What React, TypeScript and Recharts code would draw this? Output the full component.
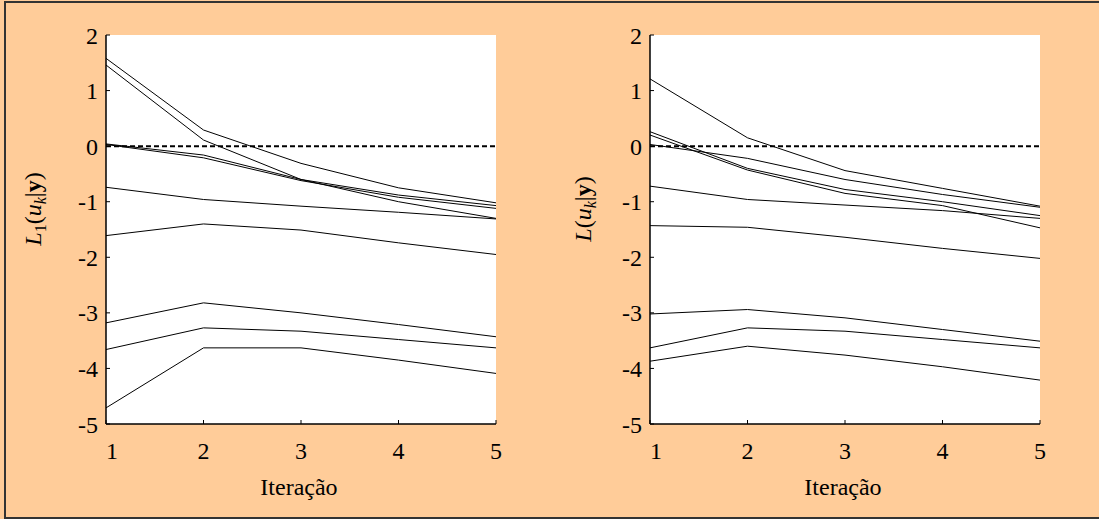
import React from 'react';
import { LineChart, Line, XAxis, YAxis, ReferenceLine, CartesianGrid } from 'recharts';

const iterations = [1, 2, 3, 4, 5];
const yTicks = [-5, -4, -3, -2, -1, 0, 1, 2];

// left panel: L1(uk|y)
const leftA = [1.58, 0.29, -0.31, -0.75, -1.02];
const leftB = [1.46, 0.11, -0.6, -1.0, -1.3];
const leftC = [0.04, -0.16, -0.6, -0.88, -1.07];
const leftD = [0.03, -0.21, -0.62, -0.92, -1.12];
const leftE = [-0.74, -0.96, -1.08, -1.19, -1.31];
const leftF = [-1.61, -1.4, -1.51, -1.74, -1.95];
const leftG = [-3.18, -2.82, -3.0, -3.21, -3.43];
const leftH = [-3.66, -3.27, -3.33, -3.48, -3.63];
const leftI = [-4.71, -3.63, -3.63, -3.85, -4.09];

// right panel: L(uk|y)
const rightA = [1.21, 0.15, -0.44, -0.76, -1.08];
const rightB = [0.26, -0.4, -0.78, -1.0, -1.25];
const rightC = [0.2, -0.43, -0.85, -1.07, -1.47];
const rightD = [0.03, -0.22, -0.6, -0.87, -1.1];
const rightE = [-0.72, -0.96, -1.06, -1.16, -1.3];
const rightF = [-1.43, -1.46, -1.64, -1.84, -2.02];
const rightG = [-3.02, -2.94, -3.09, -3.3, -3.51];
const rightH = [-3.63, -3.27, -3.33, -3.48, -3.63];
const rightI = [-3.87, -3.6, -3.76, -3.97, -4.21];

const leftCurves = [leftA, leftB, leftC, leftD, leftE, leftF, leftG, leftH, leftI];
const rightCurves = [rightA, rightB, rightC, rightD, rightE, rightF, rightG, rightH, rightI];

const FONT = 'Liberation Serif, DejaVu Serif, serif';

const toRows = (curves: number[][]) =>
  iterations.map((it, i) => {
    const row: Record<string, number> = { it };
    curves.forEach((c, k) => {
      row['s' + k] = c[i];
    });
    return row;
  });

const tickStyle = { fill: '#000', fontSize: 24, style: { fontFamily: FONT } };

// x tick labels; the first one sits a bit inside the frame like in the original
const XTick = (props: any) => {
  const { x, y, payload } = props;
  const shift = payload.value === 1 ? 6 : 0;
  return (
    <text
      x={x + shift}
      y={y}
      dy="0.71em"
      textAnchor="middle"
      fill="#000"
      fontSize={24}
      style={{ fontFamily: FONT }}
    >
      {payload.value}
    </text>
  );
};

const Panel: React.FC<{ curves: number[][]; left: number }> = ({ curves, left }) => {
  const data = toRows(curves);
  return (
    <div style={{ position: 'absolute', left, top: 0, fontFamily: FONT }}>
      <LineChart
        width={545}
        height={519}
        data={data}
        margin={{ top: 35, right: 49, bottom: 35, left: 46 }}
        style={{ fontFamily: FONT }}
      >
        <CartesianGrid horizontal={false} vertical={false} fill="#fff" />
        <XAxis
          dataKey="it"
          type="number"
          domain={[1, 5]}
          ticks={iterations}
          height={60}
          tickSize={-4}
          tickMargin={22}
          axisLine={{ stroke: '#000', strokeWidth: 1.5 }}
          tickLine={{ stroke: '#000' }}
          tick={<XTick />}
        />
        <XAxis
          xAxisId="top"
          orientation="top"
          dataKey="it"
          type="number"
          domain={[1, 5]}
          ticks={iterations}
          height={0}
          tickSize={-4}
          axisLine={{ stroke: '#000', strokeWidth: 1.5 }}
          tickLine={{ stroke: '#000' }}
          tick={false}
        />
        <YAxis
          type="number"
          domain={[-5, 2]}
          ticks={yTicks}
          width={60}
          tickSize={-4}
          tickMargin={12}
          axisLine={{ stroke: '#000', strokeWidth: 1.5 }}
          tickLine={{ stroke: '#000' }}
          tick={tickStyle}
        />
        <YAxis
          yAxisId="right"
          orientation="right"
          type="number"
          domain={[-5, 2]}
          ticks={yTicks}
          width={0}
          tickSize={-4}
          axisLine={{ stroke: '#000', strokeWidth: 1.5 }}
          tickLine={{ stroke: '#000' }}
          tick={false}
        />
        <ReferenceLine y={0} stroke="#000" strokeWidth={2} strokeDasharray="5 3" />
        {curves.map((_, k) => (
          <Line
            key={k}
            type="linear"
            dataKey={'s' + k}
            stroke="#000"
            strokeWidth={1}
            dot={false}
            isAnimationActive={false}
          />
        ))}
      </LineChart>
    </div>
  );
};

const YTitle: React.FC<{ x: number; y: number; sub?: string }> = ({ x, y, sub }) => (
  <text
    x={x}
    y={y}
    transform={`rotate(-90 ${x} ${y})`}
    textAnchor="middle"
    style={{ fontFamily: FONT }}
    fontSize={24}
    fill="#000"
  >
    <tspan fontStyle="italic">L</tspan>
    {sub && (
      <tspan fontSize={16} dy={5}>
        {sub}
      </tspan>
    )}
    <tspan dy={sub ? -5 : 0}>(</tspan>
    <tspan fontStyle="italic">u</tspan>
    <tspan fontStyle="italic" fontSize={16} dy={5}>
      k
    </tspan>
    <tspan dy={-5}>|</tspan>
    <tspan fontWeight="bold">y</tspan>
    <tspan>)</tspan>
  </text>
);

const App: React.FC = () => {
  return (
    <div
      style={{
        position: 'absolute',
        left: 0,
        top: 0,
        width: 1099,
        height: 519,
        background: '#FFCC99',
        overflow: 'hidden',
        fontFamily: FONT,
      }}
    >
      <div
        style={{
          position: 'absolute',
          left: 4,
          top: 1,
          width: 1110,
          height: 518,
          boxSizing: 'border-box',
          border: '2px solid #333',
        }}
      />
      <Panel curves={leftCurves} left={0} />
      <Panel curves={rightCurves} left={544} />
      <svg
        width={1099}
        height={519}
        style={{ position: 'absolute', left: 0, top: 0, pointerEvents: 'none', fontFamily: FONT }}
      >
        <YTitle x={41} y={209} sub="1" />
        <YTitle x={591} y={209} />
        <text x={299} y={495} textAnchor="middle" style={{ fontFamily: FONT }} fontSize={24} fill="#000">
          Iteração
        </text>
        <text x={843} y={495} textAnchor="middle" style={{ fontFamily: FONT }} fontSize={24} fill="#000">
          Iteração
        </text>
      </svg>
    </div>
  );
};

export default App;
